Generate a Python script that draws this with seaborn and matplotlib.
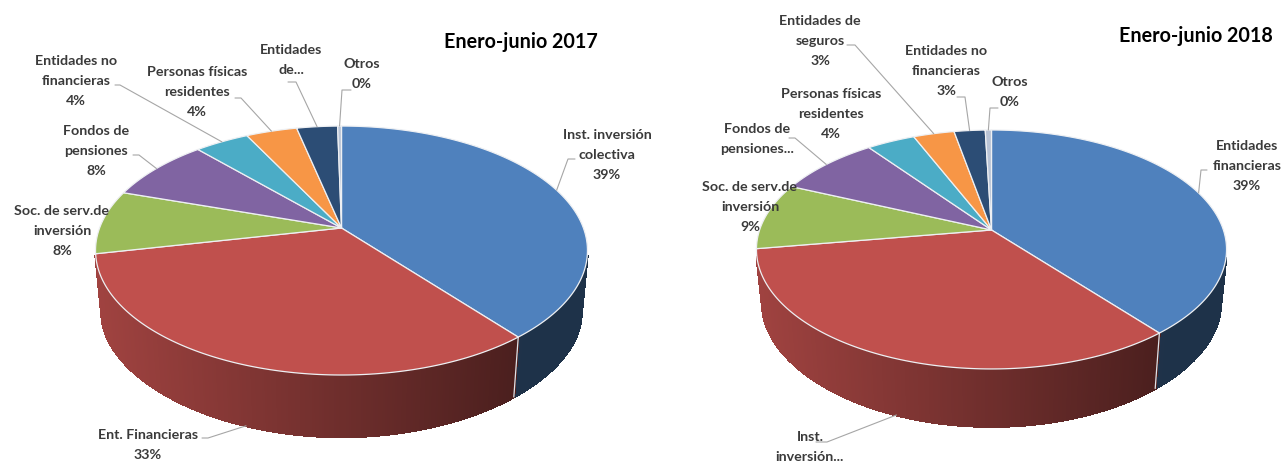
import numpy as np
import matplotlib
matplotlib.use("Agg")
import matplotlib.pyplot as plt
import seaborn as sns

# shares (%), clockwise from 12 o'clock
labels_2017 = ["Inst. inversión\ncolectiva\n39%", "Ent. Financieras\n33%", "Soc. de serv.de\ninversión\n8%",
               "Fondos de\npensiones\n8%", "Entidades no\nfinancieras\n4%", "Personas físicas\nresidentes\n4%",
               "Entidades\nde...", "Otros\n0%"]
values_2017 = [39.2, 32.5, 8.3, 8.25, 4.25, 4.0, 3.2, 0.3]

labels_2018 = ["Entidades\nfinancieras\n39%", "Inst.\ninversión...", "Soc. de serv.de\ninversión\n9%",
               "Fondos de\npensiones...", "Personas físicas\nresidentes\n4%", "Entidades de\nseguros\n3%",
               "Entidades no\nfinancieras\n3%", "Otros\n0%"]
values_2018 = [39.1, 33.4, 9.0, 8.3, 3.9, 3.3, 2.5, 0.5]

colors = ["#4f81bd", "#c0504d", "#9bbb59", "#8064a2", "#4bacc6", "#f79646", "#2c4d75", "#b9c4d6"]

# layout, figure pixels
geom_2017 = dict(cx=341.5, cy=228, a=241.9, b=120.4, p=0.181, s=0.975, drop=64, b2=108.6, p2=0.25)
geom_2018 = dict(cx=991.5, cy=230, a=231.9, b=116.3, p=0.163, s=0.975, drop=54, b2=114, p2=0.2)
text_xy_2017 = [(607, 155), (148, 445), (62, 231), (96, 151), (76, 81), (197, 92), (291, 60), (362, 74)]
text_xy_2018 = [(1247, 166), (810, 447), (750, 207), (757, 139), (831, 114), (820, 41), (946, 71), (1010, 92)]
elbow_2017 = [((575, 159), (568, 159)), ((202, 438), (208, 438)), None, ((133, 155), (139, 155)),
              ((115, 85), (120, 85)), ((235, 98), (241, 98)), ((288, 82), (296, 82)), ((351, 90), (342, 90))]
elbow_2018 = [((1207, 170), (1201, 170)), ((816, 442), (827, 442)), None, ((789, 138), (795, 138)),
              None, ((847, 45), (855, 45)), ((957, 97), (965, 97)), ((998, 108), (990, 108))]

FONT = "Lato"


def project(theta, g, lower=False):
    """Map an angle on the disc to the tilted top (or bottom) face."""
    X, Y = np.sin(theta), -np.cos(theta)
    w = 1 - g["p"] * Y
    if lower:
        return g["cx"] + g["s"] * g["a"] * X / w, g["cy"] + g["drop"] + g["b2"] * Y / (1 - g["p2"] * Y)
    return g["cx"] + g["a"] * X / w, g["cy"] + g["b"] * Y / w


def draw_pie(ax, values, labels, text_xy, elbows, g):
    edges = np.cumsum([0] + list(values)) / np.sum(values) * 2 * np.pi
    rgb = sns.color_palette(colors)

    # side wall, thin strips from back to front with a left-to-right shade
    strips = []
    for i, col in enumerate(rgb):
        n = max(int((edges[i + 1] - edges[i]) * 120), 2)
        th = np.linspace(edges[i], edges[i + 1], n + 1)
        for t0, t1 in zip(th[:-1], th[1:]):
            if min(-np.cos(t0), -np.cos(t1)) > 0.22:
                strips.append((max(-np.cos(t0), -np.cos(t1)), t0, t1, col))
    strips.sort(key=lambda r: r[0])
    left = g["cx"] - g["a"]
    for _, t0, t1, col in strips:
        x0, y0 = project(t0, g)
        x1, y1 = project(t1, g)
        x2, y2 = project(t1, g, lower=True)
        x3, y3 = project(t0, g, lower=True)
        frac = (0.5 * (x0 + x1) - left) / (2 * g["a"])
        shade = max(0.385, 0.83 - 0.51 * frac)
        c = tuple(np.array(col) * shade)
        ax.fill([x0, x1, x2, x3], [y0, y1, y2, y3], facecolor=c, edgecolor=c, lw=1.3,
                antialiased=False, zorder=2)

    # wall seams at the front
    for e in edges[1:-1]:
        if -np.cos(e) > 0.25:
            xa, ya = project(e, g)
            xb, yb = project(e, g, lower=True)
            ax.plot([xa, xb], [ya, yb], color="#dfe3e8", lw=0.9, zorder=3)

    # top face
    for i, col in enumerate(rgb):
        th = np.linspace(edges[i], edges[i + 1], 120)
        xs, ys = project(th, g)
        ax.fill(np.r_[g["cx"], xs], np.r_[g["cy"], ys], facecolor=col, edgecolor="#eef0f3",
                lw=0.9, joinstyle="round", zorder=4)

    # leaders and labels
    for i, lab in enumerate(labels):
        mid = 0.5 * (edges[i] + edges[i + 1])
        if elbows[i] is not None:
            # front slices hook onto the lower edge of the wall
            ex, ey = project(mid, g, lower=-np.cos(mid) > 0.6)
            (x0, y0), (x1, y1) = elbows[i]
            ax.plot([x0, x1, ex], [y0, y1, ey], color="#a6a6a6", lw=0.8, zorder=5)
        ax.text(text_xy[i][0], text_xy[i][1], lab, ha="center", va="center", family=FONT,
                fontweight="bold", fontsize=10.3, color="#3a3a3a", linespacing=1.8, zorder=6)


sns.set_theme(style="white")
fig = plt.figure(figsize=(12.85, 4.65), dpi=100)
ax = fig.add_axes([0, 0, 1, 1])
ax.set_xlim(0, 1285)
ax.set_ylim(465, 0)
ax.axis("off")

draw_pie(ax, values_2017, labels_2017, text_xy_2017, elbow_2017, geom_2017)
draw_pie(ax, values_2018, labels_2018, text_xy_2018, elbow_2018, geom_2018)

ax.text(521, 42, "Enero-junio 2017", ha="center", va="center", family=FONT, fontweight="bold",
        fontsize=14.2, color="black", zorder=6)
ax.text(1196, 36, "Enero-junio 2018", ha="center", va="center", family=FONT, fontweight="bold",
        fontsize=14.2, color="black", zorder=6)

fig.savefig("out.png", dpi=100)
plt.close(fig)
